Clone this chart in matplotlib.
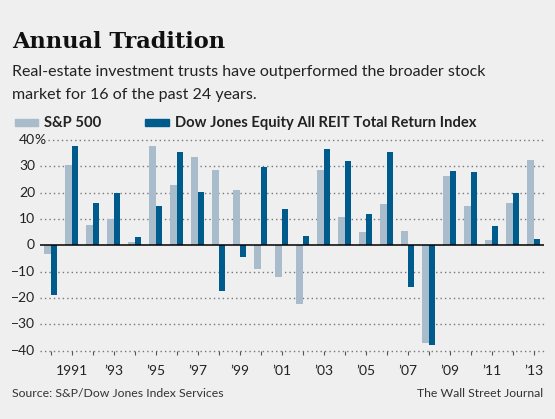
import matplotlib
matplotlib.use("Agg")
import matplotlib.pyplot as plt
import numpy as np

years = list(range(1990, 2014))
sp500 = [-3.1, 30.5, 7.6, 10.1, 1.3, 37.6, 23.0, 33.4, 28.6, 21.0, -9.1, -11.9,
         -22.1, 28.7, 10.9, 4.9, 15.8, 5.5, -37.0, 26.5, 15.1, 2.1, 16.0, 32.4]
reit = [-18.9, 37.9, 16.2, 19.7, 3.2, 15.1, 35.4, 20.1, -17.5, -4.6, 29.7, 13.8,
        3.6, 36.7, 32.0, 11.9, 35.4, -15.7, -37.7, 28.2, 27.7, 7.4, 19.7, 2.6]
tick_labels = ["1991", "\u201993", "\u201995", "\u201997", "\u201999", "\u201901",
               "\u201903", "\u201905", "\u201907", "\u201909", "\u201911", "\u201913"]
y_ticks = [40, 30, 20, 10, 0, -10, -20, -30, -40]

BG = "#efefef"
LIGHT = "#a9bccb"
DARK = "#005b8d"
TXT = "#222222"
W, H = 555, 419

plt.rcParams["font.family"] = ["Lato", "DejaVu Sans"]

fig = plt.figure(figsize=(W / 100, H / 100), dpi=100, facecolor=BG)

def px(x, y):
    return x / W, 1 - y / H

# plot area: x 40..544 px, y 140 (40%) .. 350.7 (-40)
ax = fig.add_axes([40 / W, 1 - 350.7 / H, 504 / W, 210.7 / H])
ax.set_facecolor(BG)
ax.set_xlim(1989.5, 2013.5)
ax.set_ylim(-40, 40)
for s in ax.spines.values():
    s.set_visible(False)

x = np.array(years)
bw = 0.29
ax.bar(x - bw / 2, sp500, width=bw, color=LIGHT, zorder=3)
ax.bar(x + bw / 2, reit, width=bw, color=DARK, zorder=3)

# dotted gridlines
for v in y_ticks:
    if v == 0:
        continue
    start = 0.016 if v == 40 else 0.0
    ax.axhline(v, xmin=start, xmax=1, color="#777777", lw=1.0,
               ls=(0, (1, 2.2)), zorder=1, clip_on=False)
ax.axhline(0, color="black", lw=1.1, zorder=4)

# y labels, right aligned, % hanging
for v in y_ticks:
    lab = str(v).replace("-", "\u2212")
    ax.text(-5 / 504, v, lab, transform=ax.get_yaxis_transform(), ha="right",
            va="center", fontsize=10, color=TXT)
ax.text(-6 / 504, 40, "%", transform=ax.get_yaxis_transform(), ha="left",
        va="center", fontsize=10, color=TXT)
ax.set_yticks([])

ax.set_xticks(years)
ax.set_xticklabels(["" if (yr - 1991) % 2 else tick_labels[(yr - 1991) // 2]
                    for yr in years], fontsize=10, color=TXT)
ax.tick_params(axis="x", length=3, width=0.8, color="#555555", pad=7,
               direction="out")

# title and texts
fig.text(*px(12, 48), "Annual Tradition", fontsize=16.2, fontweight="bold",
         family="DejaVu Serif", color="#111111", va="baseline")
fig.text(*px(12, 76), "Real-estate investment trusts have outperformed the broader stock",
         fontsize=11.5, color=TXT, va="baseline")
fig.text(*px(12, 99), "market for 16 of the past 24 years.",
         fontsize=11.5, color=TXT, va="baseline")

# legend
fig.patches.append(plt.Rectangle(px(15, 126), 23 / W, 7 / H, color=LIGHT,
                                 transform=fig.transFigure, figure=fig))
fig.text(*px(44, 127), "S&P 500", fontsize=10.6, fontweight="bold",
         color=TXT, va="baseline")
fig.patches.append(plt.Rectangle(px(145, 126), 24 / W, 7 / H, color=DARK,
                                  transform=fig.transFigure, figure=fig))
fig.text(*px(175, 127), "Dow Jones Equity All REIT Total Return Index",
         fontsize=10.6, fontweight="bold", color=TXT, va="baseline")

fig.text(*px(12, 397), "Source: S&P/Dow Jones Index Services", fontsize=8.8,
         color="#333333", va="baseline")
fig.text(*px(543, 397), "The Wall Street Journal", fontsize=8.8,
         color="#333333", va="baseline", ha="right")

fig.savefig("out.png", dpi=100, facecolor=BG)
